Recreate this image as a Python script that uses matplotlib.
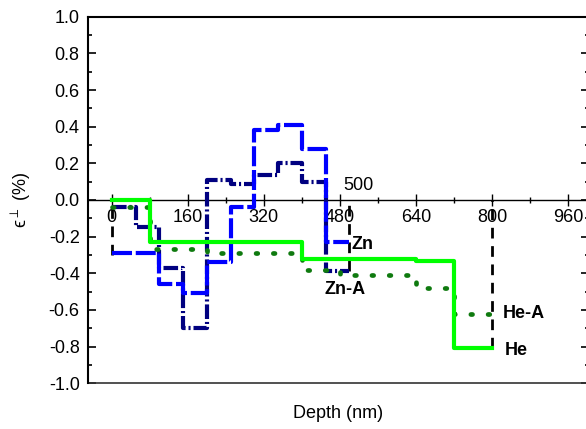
import matplotlib
matplotlib.use("Agg")
import matplotlib.pyplot as plt
from matplotlib.ticker import FixedLocator, MultipleLocator

plt.rcParams['font.family'] = ['Liberation Sans', 'DejaVu Sans']
plt.rcParams['axes.unicode_minus'] = False
plt.rcParams['mathtext.fontset'] = 'dejavusans'

# ---- data ----
zn_a_edges = [0, 50, 100, 150, 200, 250, 300, 350, 400, 450, 500]
zn_a_vals = [-0.04, -0.15, -0.37, -0.70, 0.11, 0.09, 0.135, 0.20, 0.10, -0.39]

zn_edges = [0, 100, 150, 200, 250, 300, 350, 400, 450, 500]
zn_vals = [-0.29, -0.46, -0.51, -0.34, -0.04, 0.38, 0.41, 0.28, -0.23]

he_edges = [0, 80, 400, 640, 720, 800]
he_vals = [0.0, -0.23, -0.32, -0.335, -0.81]

he_a_edges = [0, 80, 200, 400, 480, 640, 720, 800]
he_a_vals = [-0.04, -0.27, -0.29, -0.38, -0.41, -0.48, -0.62]

drop_x = [0, 500, 800]
drop_bottom = [-0.30, -0.39, -0.81]

x_ticks = [0, 160, 320, 480, 640, 800, 960]
x_ticklabels = ["0", "160", "320", "480", "640", "800", "960"]
y_ticks = [-1.0, -0.8, -0.6, -0.4, -0.2, 0.0, 0.2, 0.4, 0.6, 0.8, 1.0]
y_ticklabels = ["-1.0", "-0.8", "-0.6", "-0.4", "-0.2", "0.0", "0.2", "0.4", "0.6", "0.8", "1.0"]

series_labels = ["Zn", "Zn-A", "He-A", "He"]
label_x = [505, 448, 823, 827]
label_y = [-0.245, -0.49, -0.62, -0.82]


def steps(ax, edges, vals, **kw):
    ys = list(vals) + [vals[-1]]
    return ax.plot(edges, ys, drawstyle='steps-post', **kw)


# ---- figure ----
fig = plt.figure(figsize=(5.86, 4.29), dpi=100)
ax = fig.add_axes([88 / 586, 45.7 / 429, 501 / 586, 366.6 / 429])
ax.set_xlim(-50, 1004)
ax.set_ylim(-1.0, 1.0)

ax.vlines(drop_x, drop_bottom, [0] * len(drop_x), colors='black', linewidth=2,
          linestyles=[(0, (3.85, 2.75))], zorder=2)

steps(ax, zn_a_edges, zn_a_vals, color='#000080', linewidth=3,
      linestyle=(0, (3.5, 0.7, 0.5, 0.7)), zorder=3)
steps(ax, zn_edges, zn_vals, color='#0000FF', linewidth=3,
      linestyle=(0, (4.8, 0.9)), zorder=4)
steps(ax, he_a_edges, he_a_vals, color='#0F7A0F', linewidth=3.4,
      linestyle=(0, (0.35, 3.3)), dash_capstyle='round', zorder=5)
steps(ax, he_edges, he_vals, color='#00FF00', linewidth=3,
      linestyle='-', zorder=6)

for s, tx, ty in zip(series_labels, label_x, label_y):
    ax.text(tx, ty, s, fontsize=13, fontweight='bold', ha='left', va='center', zorder=7)

ax.text(488, 0.035, "500", fontsize=13, ha='left', va='bottom')

# axes styling
ax.spines['bottom'].set_position(('data', 0))
ax.spines['bottom'].set_linewidth(1.0)
ax.spines['top'].set_linewidth(1.5)
ax.spines['left'].set_linewidth(1.5)
ax.spines['right'].set_visible(False)
ax.plot([0, 1], [0, 0], transform=ax.transAxes, color='#333333', linewidth=1.2, clip_on=False)

ax.xaxis.set_major_locator(FixedLocator(x_ticks))
ax.set_xticklabels(x_ticklabels)
ax.xaxis.set_minor_locator(MultipleLocator(80))
ax.tick_params(axis='x', which='major', direction='inout', length=9, width=1.0,
               labelsize=13, pad=2, top=False)
ax.tick_params(axis='x', which='minor', direction='inout', length=4.5, width=1.0, top=False)

ax.yaxis.set_major_locator(FixedLocator(y_ticks))
ax.set_yticklabels(y_ticklabels)
ax.yaxis.set_minor_locator(MultipleLocator(0.1))
ax.tick_params(axis='y', which='major', direction='in', length=6, width=1.2,
               labelsize=13, pad=6, left=True, right=True)
ax.tick_params(axis='y', which='minor', direction='in', length=3, width=1.2,
               left=True, right=True)

ax.set_xlabel("Depth (nm)", fontsize=13)
ax.xaxis.set_label_coords(0.5, -0.058)
ax.set_ylabel("\u03f5$^{\\perp}$ (%)", fontsize=13)
ax.yaxis.set_label_coords(-0.11, 0.5)

fig.savefig("out.png", dpi=100)
